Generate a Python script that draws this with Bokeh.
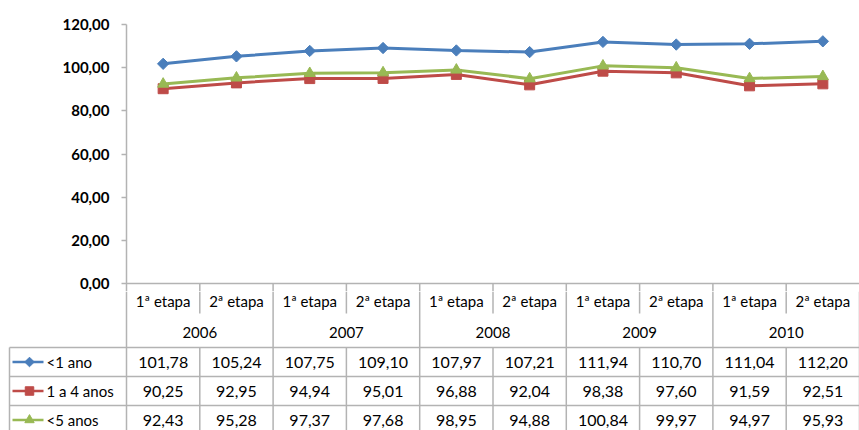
import math
from bokeh.plotting import figure
from bokeh.layouts import column
from bokeh.models import Range1d, FixedTicker, CustomJSTickFormatter
from bokeh.core.properties import value
from bokeh.embed import file_html
from bokeh.resources import INLINE

# ---------------- data ----------------
years = ["2006", "2007", "2008", "2009", "2010"]
stages = ["1ª etapa", "2ª etapa"]
series_names = ["<1 ano", "1 a 4 anos", "<5 anos"]
s_lt1 = [101.78, 105.24, 107.75, 109.10, 107.97, 107.21, 111.94, 110.70, 111.04, 112.20]
s_1a4 = [90.25, 92.95, 94.94, 95.01, 96.88, 92.04, 98.38, 97.60, 91.59, 92.51]
s_lt5 = [92.43, 95.28, 97.37, 97.68, 98.95, 94.88, 100.84, 99.97, 94.97, 95.93]
y_ticks = [0, 20, 40, 60, 80, 100, 120]

# ---------------- styles ----------------
FONT = "Lato"
GRID = "#b3b3b3"
colors = ["#4a7ebb", "#be4b48", "#98b954"]
markers = ["square", "square", "triangle"]
angles = [math.pi / 4, 0, 0]
msizes = [8, 10, 11]
series = [s_lt1, s_1a4, s_lt5]

W = 859
H = 430
LEFT = 126
TOPB = 24
PLOT_H = 259
FRAME_W = W - LEFT
NCOL = len(series[0])
COLW = FRAME_W / NCOL
PX_PER_UNIT = PLOT_H / 120.0
EXTRA = 8  # px below the zero line kept in the top figure
y_start = -EXTRA / PX_PER_UNIT
P_H = TOPB + PLOT_H + EXTRA
T_H = H - P_H

xs = [i + 0.5 for i in range(NCOL)]

# ---------------- top chart ----------------
p = figure(width=W, height=P_H, x_range=Range1d(0, NCOL),
           y_range=Range1d(y_start, 120), output_backend="svg",
           toolbar_location=None, min_border_left=LEFT, min_border_right=0,
           min_border_top=TOPB, min_border_bottom=0, x_axis_location=None)
p.frame_align = False
p.outline_line_color = None
p.xgrid.visible = False
p.ygrid.visible = False
yax = p.yaxis[0]
yax.ticker = FixedTicker(ticks=y_ticks)
yax.formatter = CustomJSTickFormatter(code="return tick.toFixed(2).replace('.', ',');")
yax.axis_line_color = GRID
yax.axis_line_width = 1.5
yax.major_tick_line_color = GRID
yax.major_tick_line_width = 1.5
yax.major_tick_out = 5
yax.major_tick_in = 0
yax.minor_tick_line_color = None
yax.major_label_text_font = FONT
yax.major_label_text_font_style = "bold"
yax.major_label_text_font_size = "15px"
yax.major_label_text_color = "#000000"
yax.major_label_standoff = 12

# zero line and divider stubs into the table
p.segment(x0=[0], y0=[0], x1=[NCOL], y1=[0], line_color=GRID, line_width=1.5)
p.segment(x0=list(range(1, NCOL)), y0=[0] * (NCOL - 1), x1=list(range(1, NCOL)),
          y1=[y_start] * (NCOL - 1), line_color=GRID, line_width=1.5)

for s, c, m, a, ms in zip(series, colors, markers, angles, msizes):
    p.line(xs, s, line_color=c, line_width=3)
    p.scatter(xs, s, marker=m, angle=a, size=ms, fill_color=c, line_color=c)

# ---------------- data table ----------------
TOP = EXTRA
BOT = EXTRA + T_H  # table coordinate (px below zero line) of bottom edge


def px2x(px):
    return (px - LEFT) / COLW


t = figure(width=W, height=T_H, x_range=Range1d(px2x(0), NCOL),
           y_range=Range1d(BOT, TOP), output_backend="svg", toolbar_location=None,
           min_border_left=0, min_border_right=0, min_border_top=0, min_border_bottom=0,
           x_axis_location=None, y_axis_location=None)
t.frame_align = False
t.outline_line_color = None
t.xgrid.visible = False
t.ygrid.visible = False

ROW_STAGE = (0, 30)
ROW_YEAR = (30, 64)
ROWS = [(64, 93), (93, 122), (122, 151)]
xl = px2x(9)

# verticals
year_b = list(range(0, NCOL + 1, 2))
t.segment(x0=year_b, y0=[TOP] * len(year_b), x1=year_b, y1=[BOT] * len(year_b),
          line_color=GRID, line_width=1.5)
stage_b = list(range(1, NCOL, 2))
t.segment(x0=stage_b, y0=[TOP] * len(stage_b), x1=stage_b, y1=[ROW_STAGE[1]] * len(stage_b),
          line_color=GRID, line_width=1.5)
t.segment(x0=stage_b, y0=[ROWS[0][0]] * len(stage_b), x1=stage_b, y1=[BOT] * len(stage_b),
          line_color=GRID, line_width=1.5)
t.segment(x0=[xl], y0=[ROWS[0][0]], x1=[xl], y1=[BOT], line_color=GRID, line_width=1.5)
hy = [r[0] for r in ROWS]
t.segment(x0=[xl] * len(hy), y0=hy, x1=[NCOL] * len(hy), y1=hy, line_color=GRID, line_width=1.5)

txt = dict(text_font=value(FONT), text_font_size="15px", text_color="#000000",
           text_align="center", text_baseline="middle")
stage_labels = [stages[i % 2] for i in range(NCOL)]
t.text(x=xs, y=[17] * NCOL, text=stage_labels, **txt)
t.text(x=[2 * j + 1 for j in range(len(years))], y=[48.5] * len(years),
       text=years, **txt)


def fmt(v):
    return f"{v:.2f}".replace(".", ",")


vtxt = dict(txt, text_font_size="16px")
for (r0, r1), s, c, m, a, ms, name in zip(ROWS, series, colors, markers, angles, msizes, series_names):
    yc = (r0 + r1) / 2
    t.text(x=xs, y=[yc] * NCOL, text=[fmt(v) for v in s], **vtxt)
    t.segment(x0=[px2x(12)], y0=[yc], x1=[px2x(43)], y1=[yc], line_color=c, line_width=2.5)
    t.scatter([px2x(29)], [yc], marker=m, angle=a, size=ms * 0.85, fill_color=c, line_color=c)
    t.text(x=[px2x(46)], y=[yc], text=[name], text_font=value(FONT), text_font_size="15px",
           text_color="#000000", text_align="left", text_baseline="middle")

layout = column(p, t, spacing=0)
open("out.html", "w").write(file_html(layout, INLINE))
